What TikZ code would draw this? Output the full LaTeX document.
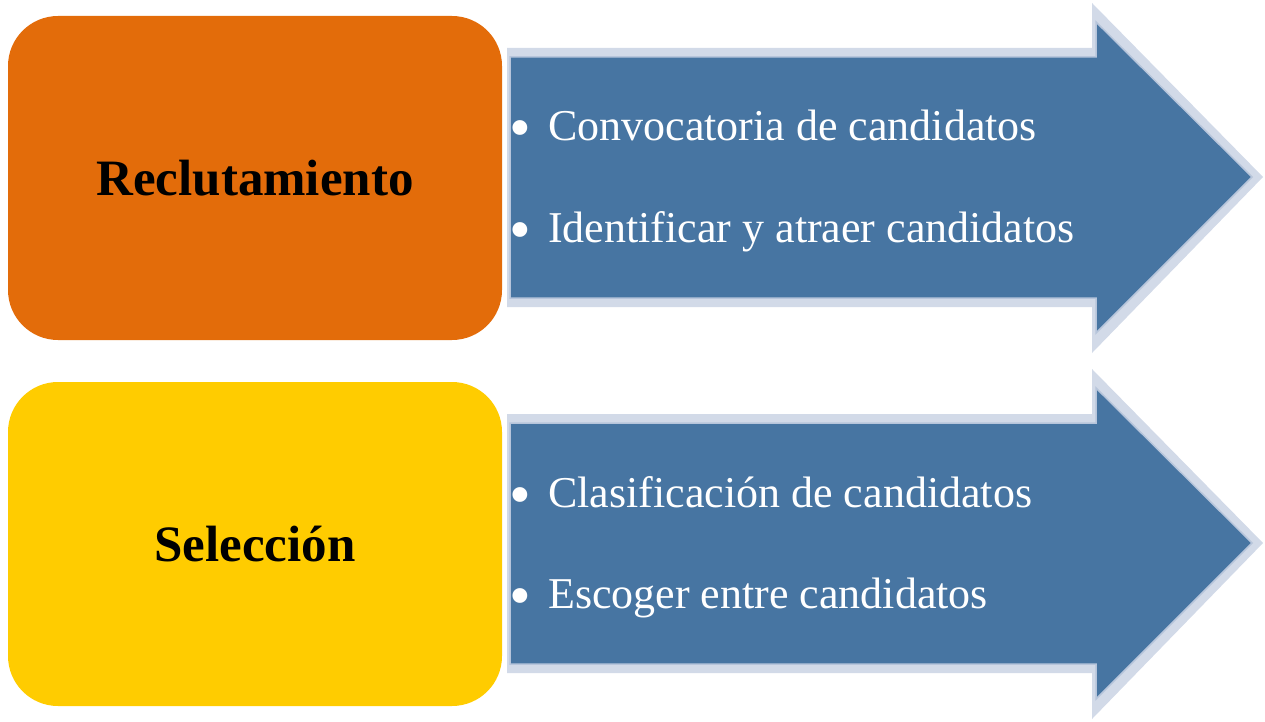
\documentclass[tikz,border=0pt]{standalone}
\usepackage{fontspec}
\setmainfont{Liberation Serif}

\definecolor{naranja}{HTML}{E36C0A}
\definecolor{amarillo}{HTML}{FFCC00}
\definecolor{azul}{HTML}{4775A2}
\definecolor{borde}{HTML}{D2DAE8}
\definecolor{bordeint}{HTML}{B7C5DB}

\tikzset{
  etapa/.style={rounded corners=50pt, minimum width=494pt, minimum height=324pt, inner sep=0pt, font=\bfseries\fontsize{51}{54}\selectfont},
  punto/.style={anchor=base west, text=white, inner sep=0pt, font=\fontsize{44}{46}\selectfont},
  vineta/.style={anchor=base west, text=white, inner sep=0pt, font=\fontsize{62}{64}\selectfont},
}

\begin{document}
\begin{tikzpicture}[x=1pt,y=-1pt]

    \useasboundingbox (0,0) rectangle (1265,722);

    \foreach \dy/\col/\nom/\ta/\tb [count=\i] in {0/naranja/Reclutamiento/Convocatoria de candidatos/Identificar y atraer candidatos, 366/amarillo/Selección/Clasificación de candidatos/Escoger entre candidatos}{
    \begin{scope}[yshift=-\dy pt]

        \fill[borde] (507,48) -- (1092,48) -- (1092,3) -- (1263,177) -- (1092,353) -- (1092,307) -- (507,307) -- cycle;
        \draw[fill=azul, draw=bordeint, line width=1.5pt] (510,57) -- (1096,57) -- (1096,22) -- (1252,177) -- (1096,333) -- (1096,298) -- (510,298) -- cycle;

        \node[etapa, fill=\col] (box\i) at (255,178) {\nom};

        \node[vineta] (b\i a) at (509,149) {\textbullet};
        \node[punto] (t\i a) at (548,141) {\ta};
        \node[vineta] (b\i b) at (509,250) {\textbullet};
        \node[punto] (t\i b) at (548,242) {\tb};

    \end{scope}
    }

\end{tikzpicture}
\end{document}
